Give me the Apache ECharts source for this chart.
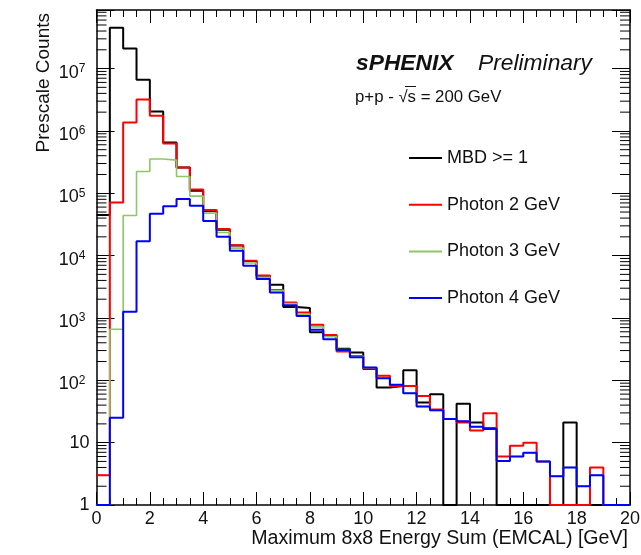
<!DOCTYPE html>
<html><head><meta charset="utf-8">
<script src="https://cdn.jsdelivr.net/npm/echarts@6/dist/echarts.min.js"></script>
<style>html,body{margin:0;padding:0;background:#fff}#c{width:641px;height:555px}</style>
</head><body><div id="c"></div>
<script>
// ---- data (bin low edges, 0.5 GeV wide bins from 0 to 20) ----
const binLowEdges = [0,0.5,1,1.5,2,2.5,3,3.5,4,4.5,5,5.5,6,6.5,7,7.5,8,8.5,9,9.5,
                     10,10.5,11,11.5,12,12.5,13,13.5,14,14.5,15,15.5,16,16.5,17,17.5,18,18.5,19,19.5];
const xUpperEdge = 20;
const seriesNames = ['MBD >= 1', 'Photon 2 GeV', 'Photon 3 GeV', 'Photon 4 GeV'];
const mbd = [4.5e4,4.5e7,2.1e7,6.6e6,2.05e6,6.5e5,2.6e5,1.1e5,5.2e4,2.6e4,
             1.45e4,8.2e3,4.7e3,3.4e3,1.5e3,1.44e3,590,520,320,278,
             152,77,81,145,44,60,0,42,21,17,
             0,0,0,0,0,21,0,0,0,0];
const photon2 = [3,7.1e4,1.37e6,3.2e6,1.75e6,6.3e5,2.6e5,1.15e5,5.4e4,2.66e4,
                 1.47e4,8.3e3,4.8e3,2.8e3,1.77e3,1.22e3,776,534,290,246,
                 155,118,81,81,56,34,24,21,15.6,29.6,
                 6.0,8.9,10,5,0,0,0,4,0,0];
const photon3 = [0,660,4.4e4,2.24e5,3.55e5,3.4e5,1.86e5,9.0e4,4.8e4,2.35e4,
                 1.32e4,7.6e3,4.5e3,2.75e3,1.7e3,1.15e3,720,500,310,240,
                 160,108,85,62,38,33,24,22,18,16.6,
                 5.1,6.0,6.9,5,2.9,4.0,2,3,0,0];
const photon4 = [0,25,1260,1.7e4,4.7e4,6.2e4,8.1e4,6.3e4,3.6e4,2.0e4,
                 1.2e4,6.9e3,4.2e3,2.56e3,1.6e3,1.08e3,650,457,307,235,
                 160,108,85,62,38,33,24,22,18,16.6,
                 5.1,6.0,6.9,5,2.9,4.0,2,3,0,0];
const xTickLabels = ['0','2','4','6','8','10','12','14','16','18','20'];
const yMin = 1, yMax = 8.7e7;

// ---- styling ----
const FONT = 'Liberation Sans, Arial, Helvetica, sans-serif';
const colors = ['#000000', '#ff0000', '#8cc864', '#0000ff'];
const widths = [2, 2, 1.6, 2];
const allValues = [mbd, photon2, photon3, photon4];

function histData(vals) {
  const d = binLowEdges.map((x, i) => [x, vals[i] > 0 ? vals[i] : yMin]);
  const last = vals[vals.length - 1];
  d.push([xUpperEdge, last > 0 ? last : yMin]);
  return d;
}
// minor ticks on log axis (2..9 x 10^n)
const yMinorTicks = [];
for (let n = 0; n < 8; n++) for (let k = 2; k <= 9; k++) { const v = k * Math.pow(10, n); if (v < yMax) yMinorTicks.push([0, v]); }

const chart = echarts.init(document.getElementById('c'), null, {renderer: 'canvas'});
const axisLineStyle = {color: '#000', width: 1.5};
const xAxisBase = {
  type: 'value', min: 0, max: 20, interval: 2,
  axisLine: {show: true, onZero: false, lineStyle: axisLineStyle},
  axisTick: {show: true, inside: true, length: 13, lineStyle: {color: '#000', width: 1}},
  minorTick: {show: true, splitNumber: 4, length: 7, lineStyle: {color: '#000', width: 1}},
  splitLine: {show: false}, minorSplitLine: {show: false}
};
const yAxisBase = {
  type: 'log', logBase: 10, min: yMin, max: yMax,
  axisLine: {show: true, onZero: false, lineStyle: axisLineStyle},
  axisTick: {show: true, inside: true, length: 18, lineStyle: {color: '#000', width: 1}},
  splitLine: {show: false}
};

const series = seriesNames.map((name, i) => ({
  name, type: 'line', step: 'end', data: histData(allValues[i]),
  symbol: 'none', showSymbol: false, clip: false, silent: true,
  color: colors[i], itemStyle: {color: colors[i]},
  lineStyle: {color: colors[i], width: widths[i]}, z: 3 + i
}));
series.push({
  type: 'custom', silent: true, z: 2, data: yMinorTicks,
  renderItem: function (params, api) {
    const v = api.value(1);
    const pL = api.coord([0, v]);
    const pR = api.coord([20, v]);
    return {type: 'group', children: [
      {type: 'line', shape: {x1: pL[0], y1: pL[1], x2: pL[0] + 10, y2: pL[1]}, style: {stroke: '#000', lineWidth: 1}},
      {type: 'line', shape: {x1: pR[0] - 10, y1: pR[1], x2: pR[0], y2: pR[1]}, style: {stroke: '#000', lineWidth: 1}}
    ]};
  }
});

chart.setOption({
  animation: false,
  backgroundColor: '#fff',
  grid: {left: 96.5, right: 11, top: 10, bottom: 50, containLabel: false, outerBoundsMode: 'none', show: false},
  xAxis: [
    Object.assign({}, xAxisBase, {position: 'bottom',
      axisLabel: {show: true, margin: 5, fontSize: 18, fontFamily: FONT, color: '#111',
        formatter: v => xTickLabels[Math.round(v / 2)]}}),
    Object.assign({}, xAxisBase, {position: 'top', axisLabel: {show: false}})
  ],
  yAxis: [
    Object.assign({}, yAxisBase, {position: 'left',
      axisLabel: {show: true, margin: 7, fontFamily: FONT, color: '#111',
        formatter: v => {
          const lg = Math.log10(v), n = Math.round(lg);
          if (Math.abs(lg - n) > 0.01) return '';
          if (n === 0) return '{p|1}'; if (n === 1) return '{p|10}';
          return '{b|10}{s|' + n + '}';
        },
        rich: {
          p: {fontSize: 18, fontFamily: FONT, color: '#111', lineHeight: 20},
          b: {fontSize: 18, fontFamily: FONT, color: '#111', lineHeight: 20, padding: [8, 0, 0, 0]},
          s: {fontSize: 12, fontFamily: FONT, color: '#111', lineHeight: 12, verticalAlign: 'top', padding: [4, 4, 0, 0]}
        }}}),
    Object.assign({}, yAxisBase, {position: 'right', axisLabel: {show: false}})
  ],
  legend: {
    orient: 'vertical', left: 409, top: 148, padding: 0, itemWidth: 33, itemHeight: 2, icon: 'rect', itemGap: 26.7,
    selectedMode: false, data: seriesNames,
    textStyle: {fontFamily: FONT, fontSize: 18, color: '#111', lineHeight: 20}
  },
  series,
  graphic: [
    {type: 'text', x: 356, y: 64, style: {text: 'sPHENIX', font: 'italic bold 22.8px ' + FONT, fill: '#111', textAlign: 'left', textVerticalAlign: 'middle'}},
    {type: 'text', x: 478, y: 64, style: {text: 'Preliminary', font: 'italic 22.8px ' + FONT, fill: '#111', textAlign: 'left', textVerticalAlign: 'middle'}},
    {type: 'text', x: 355, y: 97, style: {text: 'p+p - \u221As = 200 GeV', font: '16.8px ' + FONT, fill: '#111', textAlign: 'left', textVerticalAlign: 'middle'}},
    {type: 'line', shape: {x1: 405, y1: 86.5, x2: 416, y2: 86.5}, style: {stroke: '#111', lineWidth: 1}},
    {type: 'text', x: 628, y: 539, style: {text: 'Maximum 8x8 Energy Sum (EMCAL) [GeV]', font: '19.6px ' + FONT, fill: '#111', textAlign: 'right', textVerticalAlign: 'middle'}},
    {type: 'text', x: 44, y: 13, rotation: Math.PI / 2, style: {text: 'Prescale Counts', font: '19px ' + FONT, fill: '#111', textAlign: 'right', textVerticalAlign: 'middle'}}
  ]
});
</script></body></html>
